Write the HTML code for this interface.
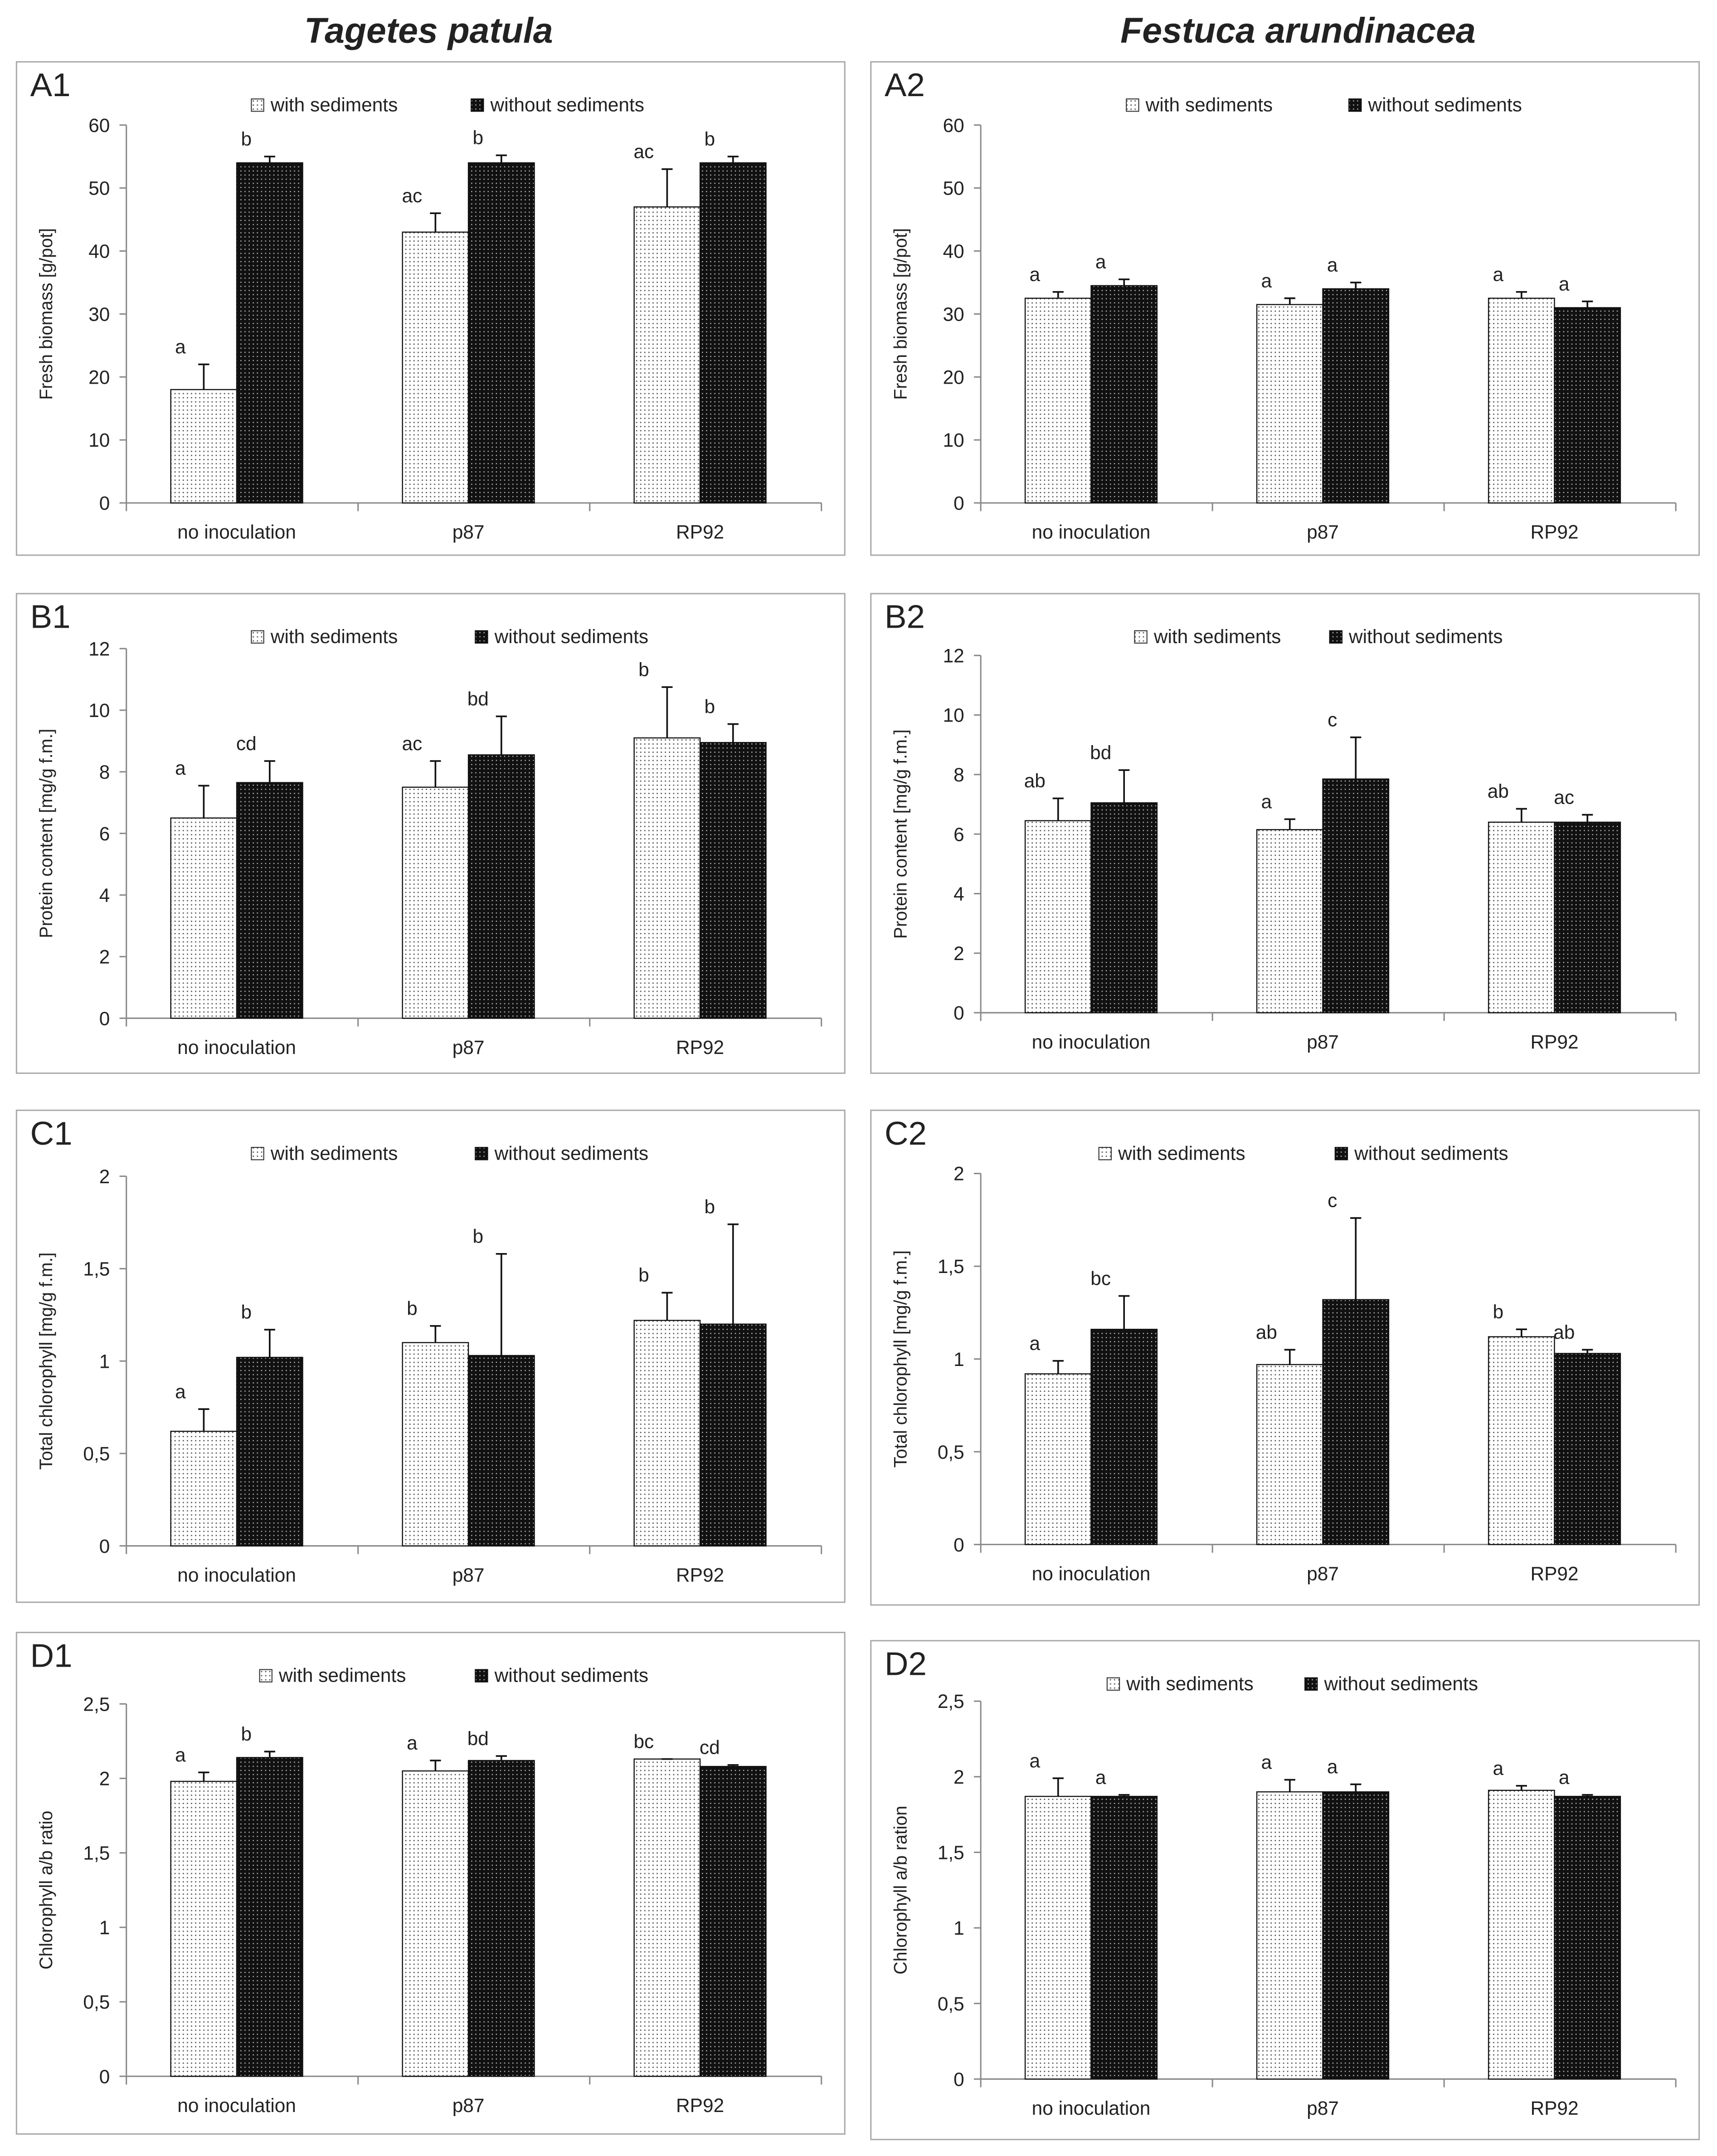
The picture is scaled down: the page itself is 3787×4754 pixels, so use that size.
<!DOCTYPE html>
<html><head><meta charset="utf-8"><style>
html,body{margin:0;padding:0;background:#fff}
svg{display:block}
text{font-family:"Liberation Sans",sans-serif;fill:#222}
</style></head><body>
<svg id="fig" width="3787" height="4754" viewBox="0 0 1250 1569" preserveAspectRatio="none" xmlns="http://www.w3.org/2000/svg">
<defs>
<pattern id="pLight" width="3" height="3" patternUnits="userSpaceOnUse"><rect width="3" height="3" fill="#fff"/><rect x="1" y="1" width="0.9" height="0.9" fill="#555"/></pattern>
<pattern id="pDark" width="3" height="3" patternUnits="userSpaceOnUse"><rect width="3" height="3" fill="#111"/><rect x="1" y="1" width="0.8" height="0.8" fill="#bbb"/></pattern>
</defs>
<text x="312" y="31" text-anchor="middle" font-size="26" font-weight="bold" font-style="italic">Tagetes patula</text>
<text x="945" y="31" text-anchor="middle" font-size="26" font-weight="bold" font-style="italic">Festuca arundinacea</text>
</svg>
<script>
const categories = ["no inoculation","p87","RP92"];
// A1
const a1With=[18,43,47], a1WithErr=[4,3,6], a1Without=[54,54,54], a1WithoutErr=[1,1.2,1];
const a1LetW=["a","ac","ac"], a1LetWo=["b","b","b"];
const aTicks=["0","10","20","30","40","50","60"];
// A2
const a2With=[32.5,31.5,32.5], a2WithErr=[1,1,1], a2Without=[34.5,34,31], a2WithoutErr=[1,1,1];
const a2LetW=["a","a","a"], a2LetWo=["a","a","a"];
// B1
const b1With=[6.5,7.5,9.1], b1WithErr=[1.05,0.85,1.65], b1Without=[7.65,8.55,8.95], b1WithoutErr=[0.7,1.25,0.6];
const b1LetW=["a","ac","b"], b1LetWo=["cd","bd","b"];
const bTicks=["0","2","4","6","8","10","12"];
// B2
const b2With=[6.45,6.15,6.4], b2WithErr=[0.75,0.35,0.45], b2Without=[7.05,7.85,6.4], b2WithoutErr=[1.1,1.4,0.25];
const b2LetW=["ab","a","ab"], b2LetWo=["bd","c","ac"];
// C1
const c1With=[0.62,1.1,1.22], c1WithErr=[0.12,0.09,0.15], c1Without=[1.02,1.03,1.2], c1WithoutErr=[0.15,0.55,0.54];
const c1LetW=["a","b","b"], c1LetWo=["b","b","b"];
const cTicks=["0","0,5","1","1,5","2"];
// C2
const c2With=[0.92,0.97,1.12], c2WithErr=[0.07,0.08,0.04], c2Without=[1.16,1.32,1.03], c2WithoutErr=[0.18,0.44,0.02];
const c2LetW=["a","ab","b"], c2LetWo=["bc","c","ab"];
// D1
const d1With=[1.98,2.05,2.13], d1WithErr=[0.06,0.07,0.0], d1Without=[2.14,2.12,2.08], d1WithoutErr=[0.04,0.03,0.01];
const d1LetW=["a","a","bc"], d1LetWo=["b","bd","cd"];
const dTicks=["0","0,5","1","1,5","2","2,5"];
// D2
const d2With=[1.87,1.9,1.91], d2WithErr=[0.12,0.08,0.03], d2Without=[1.87,1.9,1.87], d2WithoutErr=[0.01,0.05,0.01];
const d2LetW=["a","a","a"], d2LetWo=["a","a","a"];

const NS="http://www.w3.org/2000/svg";
const svg=document.getElementById('fig');
function mk(tag,attrs,parent){const e=document.createElementNS(NS,tag);for(const k in attrs)e.setAttribute(k,attrs[k]);(parent||svg).appendChild(e);return e;}

const panels=[
 {id:"a1",label:"A1",x:12,top:45,bottom:404,y0:366,yTop:91,max:60,ticks:aTicks,title:"Fresh biomass  [g/pot]",w:a1With,we:a1WithErr,wo:a1Without,woe:a1WithoutErr,lw:a1LetW,lwo:a1LetWo,lg:[171,331]},
 {id:"a2",label:"A2",x:634,top:45,bottom:404,y0:366,yTop:91,max:60,ticks:aTicks,title:"Fresh biomass [g/pot]",w:a2With,we:a2WithErr,wo:a2Without,woe:a2WithoutErr,lw:a2LetW,lwo:a2LetWo,lg:[186,348]},
 {id:"b1",label:"B1",x:12,top:432,bottom:781,y0:741,yTop:472,max:12,ticks:bTicks,title:"Protein content [mg/g f.m.]",w:b1With,we:b1WithErr,wo:b1Without,woe:b1WithoutErr,lw:b1LetW,lwo:b1LetWo,lg:[171,334]},
 {id:"b2",label:"B2",x:634,top:432,bottom:781,y0:737,yTop:477,max:12,ticks:bTicks,title:"Protein content [mg/g f.m.]",w:b2With,we:b2WithErr,wo:b2Without,woe:b2WithoutErr,lw:b2LetW,lwo:b2LetWo,lg:[192,334]},
 {id:"c1",label:"C1",x:12,top:808,bottom:1166,y0:1125,yTop:856,max:2,ticks:cTicks,title:"Total chlorophyll [mg/g f.m.]",w:c1With,we:c1WithErr,wo:c1Without,woe:c1WithoutErr,lw:c1LetW,lwo:c1LetWo,lg:[171,334]},
 {id:"c2",label:"C2",x:634,top:808,bottom:1168,y0:1124,yTop:854,max:2,ticks:cTicks,title:"Total chlorophyll [mg/g f.m.]",w:c2With,we:c2WithErr,wo:c2Without,woe:c2WithoutErr,lw:c2LetW,lwo:c2LetWo,lg:[166,338]},
 {id:"d1",label:"D1",x:12,top:1188,bottom:1553,y0:1511,yTop:1240,max:2.5,ticks:dTicks,title:"Chlorophyll a/b ratio",w:d1With,we:d1WithErr,wo:d1Without,woe:d1WithoutErr,lw:d1LetW,lwo:d1LetWo,lg:[177,334]},
 {id:"d2",label:"D2",x:634,top:1194,bottom:1557,y0:1513,yTop:1238,max:2.5,ticks:dTicks,title:"Chlorophyll a/b ration",w:d2With,we:d2WithErr,wo:d2Without,woe:d2WithoutErr,lw:d2LetW,lwo:d2LetWo,lg:[172,316]}
];

panels.forEach(p=>{
  const g=mk('g',{});
  
  
  const box=mk('rect',{x:p.x,y:p.top,width:603,height:p.bottom-p.top,fill:'#fff',stroke:'#aaa','stroke-width':1},g);
  
  
  const lab=mk('text',{x:p.x+10,y:p.top+25,'font-size':24},g);
  lab.textContent=p.label;
  
  
  const ly=p.top+32;
  const s1=mk('rect',{x:p.x+p.lg[0],y:ly-5,width:9,height:9,fill:'url(#pLight)',stroke:'#333','stroke-width':0.7},g);
  
  
  const t1=mk('text',{x:p.x+p.lg[0]+14,y:ly+4,'font-size':14},g);t1.textContent='with sediments';
  
  
  const s2=mk('rect',{x:p.x+p.lg[1],y:ly-5,width:9,height:9,fill:'url(#pDark)',stroke:'#111','stroke-width':0.7},g);
  
  
  const t2=mk('text',{x:p.x+p.lg[1]+14,y:ly+4,'font-size':14},g);t2.textContent='without sediments';
  
  
  const ax=p.x+80, right=p.x+586;
  const yS=v=>p.y0-(v/p.max)*(p.y0-p.yTop);
  const catW=(right-ax)/categories.length;
  const ya=mk('line',{x1:ax,y1:p.yTop,x2:ax,y2:p.y0,stroke:'#888','stroke-width':1},g);
  
  
  const xa=mk('line',{x1:ax,y1:p.y0,x2:right,y2:p.y0,stroke:'#888','stroke-width':1},g);
  
  
  const step=p.max/(p.ticks.length-1);
  p.ticks.forEach((t,i)=>{
    const y=yS(i*step);
    mk('line',{x1:ax-5,y1:y,x2:ax,y2:y,stroke:'#888','stroke-width':1},g);
    const tt=mk('text',{x:ax-12,y:y+5,'font-size':14,'text-anchor':'end'},g);tt.textContent=t;
    
    
  });
  for(let i=0;i<=categories.length;i++){
    const x=ax+i*catW;
    mk('line',{x1:x,y1:p.y0,x2:x,y2:p.y0+6,stroke:'#888','stroke-width':1},g);
  }
  const yt=mk('text',{x:0,y:0,'font-size':13,'text-anchor':'middle',transform:`translate(${p.x+26},${(p.y0+p.yTop)/2}) rotate(-90)`},g);
  yt.textContent=p.title;
  
  
  const bw=48;
  categories.forEach((c,i)=>{
    const cx=ax+catW*(i+0.5)-4;
    const ct=mk('text',{x:cx,y:p.y0+26,'font-size':14,'text-anchor':'middle'},g);ct.textContent=c;
    
    
    [[p.w,p.we,p.lw,'url(#pLight)','with',cx-bw],[p.wo,p.woe,p.lwo,'url(#pDark)','without',cx]].forEach(s=>{
      const v=s[0][i],e=s[1][i],bx=s[5];
      const r=mk('rect',{x:bx,y:yS(v),width:bw,height:p.y0-yS(v),fill:s[3],stroke:'#111','stroke-width':0.8},g);
      
      
      const mx=bx+bw/2, et=yS(v+e);
      const el=mk('path',{d:`M${mx},${yS(v)}V${et}M${mx-4},${et}H${mx+4}`,stroke:'#111','stroke-width':1.2,fill:'none'},g);
      
      
      const lt=mk('text',{x:mx-17,y:et-8,'font-size':14,'text-anchor':'middle'},g);lt.textContent=s[2][i];
      
      
    });
  });
});
</script>
</body></html>
